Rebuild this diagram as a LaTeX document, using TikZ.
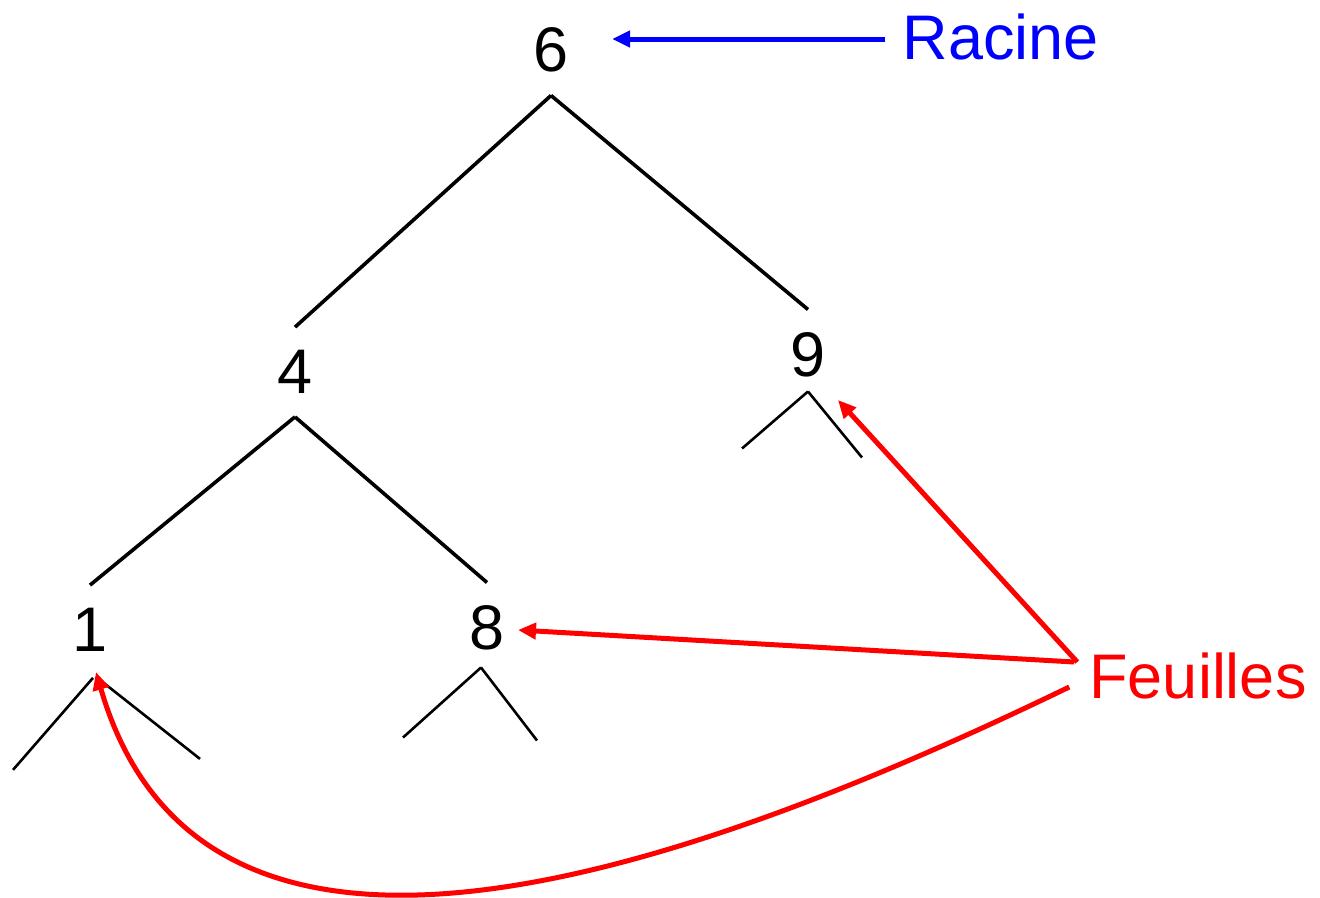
\documentclass[tikz,border=0pt]{standalone}
\usepackage{fontspec}
\setmainfont{Liberation Sans}
\usetikzlibrary{arrows.meta}
\definecolor{racine}{RGB}{0,0,255}
\definecolor{feuille}{RGB}{255,0,0}

\begin{document}
\begin{tikzpicture}[x=1pt, y=-1pt,
  font=\fontsize{63}{70}\selectfont,
  key/.style={inner sep=23pt},
  edge/.style={line width=3.6pt},
  stub/.style={line width=2.6pt},
  tip/.style={-{Triangle[length=18pt,width=16pt]}, line width=5pt}]
\useasboundingbox (0,0) rectangle (1320,897);
% keys of the tree
\node[key] (n6) at (551,50) {6};
\node[key] (n4) at (295,372) {4};
\node[key] (n9) at (808,355) {9};
\node[key] (n1) at (90,630) {1};
\node[key] (n8) at (487,628) {8};
% labels
\node[inner sep=0pt, text=racine] (racine) at (1001,37) {Racine};
\node[inner sep=0pt, text=feuille] (feuilles) at (1198,676) {Feuilles};
% edges
\draw[edge] (n6.south) -- (n4.north);
\draw[edge] (n6.south) -- (n9.north);
\draw[edge] (n4.south) -- (n1.north);
\draw[edge] (n4.south) -- (n8.north);
% empty subtrees
\draw[stub] ([yshift=9pt]n9.south) -- ++(-66,57);
\draw[stub] ([yshift=9pt]n9.south) -- ++(54,66);
\draw[stub] ([xshift=3pt,yshift=-3pt]n1.south) -- ++(-80,92);
\draw[stub] ([xshift=6pt,yshift=-2pt]n1.south) -- ++(104,82);
\draw[stub] ([xshift=-6pt,yshift=6pt]n8.south) -- ++(-78,70);
\draw[stub] ([xshift=-6pt,yshift=6pt]n8.south) -- ++(56,73);
% arrows
\draw[tip, racine] ([xshift=-18pt,yshift=-2pt]racine.west) -- ([xshift=61pt,yshift=11pt]n6.center);
\draw[tip, feuille] ([xshift=-12pt,yshift=14pt]feuilles.west) -- ([xshift=30pt,yshift=-45pt]n9.center);
\draw[tip, feuille] ([xshift=-15pt,yshift=14pt]feuilles.west) -- ([xshift=31pt,yshift=-2pt]n8.center);
\draw[tip, feuille] ([xshift=-20pt,yshift=-11pt]feuilles.west) .. controls (650,890) and (200,1030) .. ([xshift=6pt,yshift=-42pt]n1.center);
\end{tikzpicture}
\end{document}
